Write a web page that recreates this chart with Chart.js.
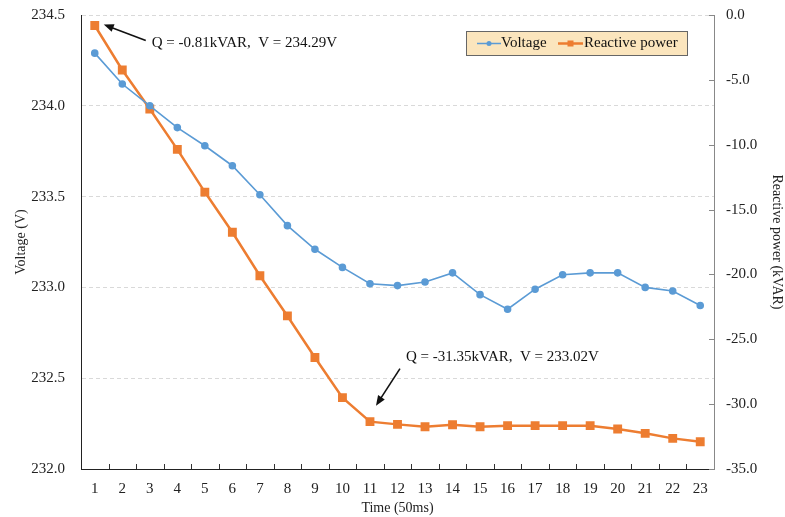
<!DOCTYPE html>
<html>
<head>
<meta charset="utf-8">
<script src="https://cdn.jsdelivr.net/npm/chart.js@4"></script>
<style>
  html, body { margin: 0; padding: 0; background: #fff; }
  #wrap { width: 785px; height: 517px; }
</style>
</head>
<body>
<div id="wrap"><canvas id="chart" width="785" height="517"></canvas></div>
<script>
const times = ['1','2','3','4','5','6','7','8','9','10','11','12','13','14','15','16','17','18','19','20','21','22','23'];
const voltage = [234.29, 234.12, 234.00, 233.88, 233.78, 233.67, 233.51, 233.34, 233.21, 233.11, 233.02,
                 233.01, 233.03, 233.08, 232.96, 232.88, 232.99, 233.07, 233.08, 233.08, 233.00, 232.98, 232.90];
const reactive = [-0.81, -4.24, -7.25, -10.36, -13.65, -16.75, -20.1, -23.2, -26.4, -29.5, -31.35,
                  -31.56, -31.74, -31.59, -31.74, -31.66, -31.66, -31.66, -31.66, -31.92, -32.25, -32.64, -32.9];
const notes = [
    { index: 0, text: 'Q = -0.81kVAR,  V = 234.29V' },
    { index: 10, text: 'Q = -31.35kVAR,  V = 233.02V' }
];

const blue = '#5b9bd5';
const orange = '#ed7d31';
const serif = '"Liberation Serif", "Times New Roman", serif';

function arrow(ctx, x1, y1, x2, y2) {
    const a = Math.atan2(y2 - y1, x2 - x1);
    ctx.beginPath();
    ctx.moveTo(x1, y1);
    ctx.lineTo(x2 - 6 * Math.cos(a), y2 - 6 * Math.sin(a));
    ctx.stroke();
    ctx.beginPath();
    ctx.moveTo(x2, y2);
    ctx.lineTo(x2 - 10 * Math.cos(a) + 4 * Math.sin(a), y2 - 10 * Math.sin(a) - 4 * Math.cos(a));
    ctx.lineTo(x2 - 10 * Math.cos(a) - 4 * Math.sin(a), y2 - 10 * Math.sin(a) + 4 * Math.cos(a));
    ctx.closePath();
    ctx.fill();
}

const extras = {
    id: 'extras',
    afterDraw(chart) {
        const ctx = chart.ctx;
        const x = chart.scales.x, y1 = chart.scales.y1;
        const area = chart.chartArea;
        ctx.save();
        // inward tick marks on x axis (category boundaries) and right axis
        ctx.strokeStyle = '#333';
        ctx.lineWidth = 1;
        for (let i = 1; i < times.length; i++) {
            const px = Math.round((x.getPixelForTick(i - 1) + x.getPixelForTick(i)) / 2) + 0.5;
            ctx.beginPath();
            ctx.moveTo(px, area.bottom);
            ctx.lineTo(px, area.bottom - 5);
            ctx.stroke();
        }
        ctx.strokeStyle = '#888';
        y1.ticks.forEach((t, i) => {
            const py = Math.round(y1.getPixelForTick(i)) + 0.5;
            ctx.beginPath();
            ctx.moveTo(area.right, py);
            ctx.lineTo(area.right - 5, py);
            ctx.stroke();
        });

        // annotations
        ctx.fillStyle = '#111';
        ctx.strokeStyle = '#111';
        ctx.lineWidth = 1.6;
        ctx.font = '15px ' + serif;
        ctx.textBaseline = 'middle';
        ctx.textAlign = 'left';
        const p0x = x.getPixelForValue(notes[0].index), p0y = y1.getPixelForValue(reactive[notes[0].index]);
        arrow(ctx, p0x + 51, p0y + 15, p0x + 9, p0y - 1);
        ctx.fillText(notes[0].text, p0x + 57, p0y + 18);
        const p1x = x.getPixelForValue(notes[1].index), p1y = y1.getPixelForValue(reactive[notes[1].index]);
        arrow(ctx, p1x + 30, p1y - 53, p1x + 6, p1y - 16);
        ctx.fillText(notes[1].text, p1x + 36, p1y - 65);

        // legend
        const lx = 466, ly = 31, lw = 221, lh = 24;
        ctx.fillStyle = '#fbe5bd';
        ctx.fillRect(lx, ly, lw, lh);
        ctx.strokeStyle = '#666';
        ctx.lineWidth = 1;
        ctx.strokeRect(lx + 0.5, ly + 0.5, lw, lh);
        const cy = ly + lh / 2 + 0.5;
        ctx.strokeStyle = blue;
        ctx.lineWidth = 1.5;
        ctx.beginPath(); ctx.moveTo(477, cy); ctx.lineTo(501, cy); ctx.stroke();
        ctx.fillStyle = blue;
        ctx.beginPath(); ctx.arc(489, cy, 2.5, 0, Math.PI * 2); ctx.fill();
        ctx.strokeStyle = orange;
        ctx.lineWidth = 2.5;
        ctx.beginPath(); ctx.moveTo(558, cy); ctx.lineTo(583, cy); ctx.stroke();
        ctx.fillStyle = orange;
        ctx.fillRect(567.5, cy - 3, 6, 6);
        ctx.fillStyle = '#111';
        ctx.font = '15px ' + serif;
        ctx.fillText('Voltage', 501, cy);
        ctx.fillText('Reactive power', 584, cy);
        ctx.restore();
    }
};

const ctx = document.querySelector('#chart').getContext('2d');
const chart = new Chart(ctx, {
    type: 'line',
    data: {
        labels: times,
        datasets: [{
            label: 'Voltage',
            data: voltage,
            yAxisID: 'y',
            borderColor: blue,
            backgroundColor: blue,
            borderWidth: 1.6,
            pointRadius: 3,
            pointStyle: 'circle',
            tension: 0
        },
            {
                label: 'Reactive power',
                data: reactive,
                yAxisID: 'y1',
                borderColor: orange,
                backgroundColor: orange,
                borderWidth: 2.5,
                pointRadius: 4.5,
                pointStyle: 'rect',
                tension: 0
            }
        ]
    },
    options: {
        responsive: false,
        animation: false,
        layout: { padding: { top: 15, left: 0, right: 0, bottom: 0 } },
        plugins: {
            legend: { display: false },
            tooltip: { enabled: false }
        },
        scales: {
            x: {
                offset: true,
                grid: { display: false, drawTicks: false },
                border: { color: '#222', width: 1 },
                ticks: { color: '#222', font: { family: serif, size: 15 }, padding: 11, maxRotation: 0 },
                title: { display: true, text: 'Time (50ms)', color: '#222', font: { family: serif, size: 14 }, padding: { top: 0, bottom: 0 } },
                afterFit: (s) => { s.height = 48; s.paddingLeft = 0; s.paddingRight = 0; }
            },
            y: {
                position: 'left',
                min: 232,
                max: 234.5,
                ticks: { stepSize: 0.5, color: '#222', font: { family: serif, size: 15 }, padding: 16,
                    callback: (v) => v.toFixed(1) },
                grid: { color: (c) => c.tick.value === 232 ? 'rgba(0,0,0,0)' : '#d9d9d9', drawTicks: false },
                border: { color: '#222', width: 1, dash: [4, 3] },
                title: { display: true, text: 'Voltage (V)', color: '#222', font: { family: serif, size: 14 }, padding: { top: 13, bottom: 0 } },
                afterFit: (s) => { s.width = 81; s.paddingTop = 0; s.paddingBottom = 0; }
            },
            y1: {
                position: 'right',
                min: -35,
                max: 0,
                ticks: { stepSize: 5, color: '#222', font: { family: serif, size: 15 }, padding: 12,
                    callback: (v) => v.toFixed(1) },
                grid: { drawOnChartArea: false, drawTicks: false },
                border: { color: '#888', width: 1 },
                title: { display: true, text: 'Reactive power (kVAR)', color: '#222', font: { family: serif, size: 14 }, padding: { top: 0, bottom: 4 } },
                afterFit: (s) => { s.width = 71; s.paddingTop = 0; s.paddingBottom = 0; }
            }
        }
    },
    plugins: [extras]
});
</script>
</body>
</html>
